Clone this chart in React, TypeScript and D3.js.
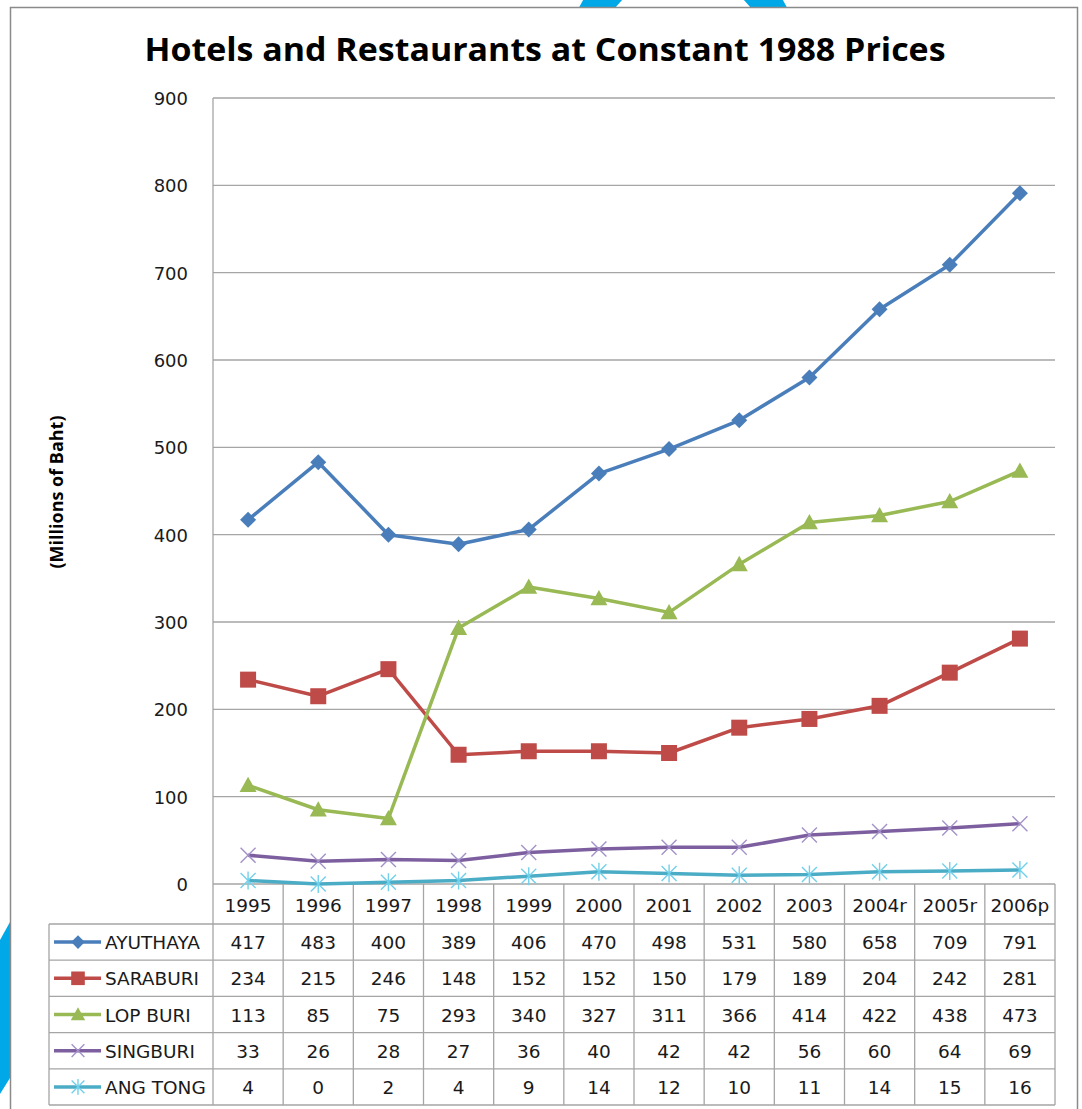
import React from "react";
import { scaleBand, scaleLinear, line, range } from "d3";

const years = ["1995", "1996", "1997", "1998", "1999", "2000", "2001", "2002", "2003", "2004r", "2005r", "2006p"];
const seriesNames = ["AYUTHAYA", "SARABURI", "LOP BURI", "SINGBURI", "ANG TONG"];
const ayuthaya = [417, 483, 400, 389, 406, 470, 498, 531, 580, 658, 709, 791];
const saraburi = [234, 215, 246, 148, 152, 152, 150, 179, 189, 204, 242, 281];
const lopBuri = [113, 85, 75, 293, 340, 327, 311, 366, 414, 422, 438, 473];
const singburi = [33, 26, 28, 27, 36, 40, 42, 42, 56, 60, 64, 69];
const angTong = [4, 0, 2, 4, 9, 14, 12, 10, 11, 14, 15, 16];
const yTicks = [0, 100, 200, 300, 400, 500, 600, 700, 800, 900];

const seriesValues = [ayuthaya, saraburi, lopBuri, singburi, angTong];
const lineColors = ["#4a7ebb", "#be4b48", "#98b954", "#7d5fa0", "#4bacc6"];
const markerTypes = ["diamond", "square", "triangle", "x", "star"];

const W = 1082;
const H = 1109;
const plotLeft = 213;
const plotRight = 1055;
const plotTop = 98;
const plotBottom = 884;
const tableLeft = 49;
const headerBottom = 924;
const tableBottom = 1105;
const rowH = (tableBottom - headerBottom) / seriesNames.length;

const x = scaleBand<string>().domain(years).range([plotLeft, plotRight]);
const y = scaleLinear().domain([0, 900]).range([plotBottom, plotTop]);

const grid = "#a5a5a5";
const font = "'DejaVu Sans', sans-serif";

function Marker({ type, cx, cy, color, s = 1 }: { type: string; cx: number; cy: number; color: string; s?: number }) {
  if (type === "diamond") {
    const r = 8 * s;
    return <path d={`M${cx},${cy - r}L${cx + r},${cy}L${cx},${cy + r}L${cx - r},${cy}Z`} fill={color} />;
  }
  if (type === "square") {
    const r = 8 * s;
    return <rect x={cx - r} y={cy - r} width={2 * r} height={2 * r} fill={color} />;
  }
  if (type === "triangle") {
    const r = 8.5 * s;
    return <path d={`M${cx},${cy - r}L${cx + r},${cy + r * 0.8}L${cx - r},${cy + r * 0.8}Z`} fill={color} />;
  }
  if (type === "x") {
    const r = 7.5 * s;
    return (
      <path
        d={`M${cx - r},${cy - r}L${cx + r},${cy + r}M${cx - r},${cy + r}L${cx + r},${cy - r}`}
        stroke="#a392c8"
        strokeWidth={1.4}
        fill="none"
      />
    );
  }
  const r = 7.5 * s;
  return (
    <path
      d={`M${cx - r},${cy - r}L${cx + r},${cy + r}M${cx - r},${cy + r}L${cx + r},${cy - r}M${cx},${cy - r - 1.5}L${cx},${cy + r + 1.5}`}
      stroke="#72d0ea"
      strokeWidth={1.4}
      fill="none"
    />
  );
}

export default function App() {
  const cx = (i: number) => (x(years[i]) as number) + x.bandwidth() / 2;
  const path = line<number>()
    .x((_, i) => cx(i))
    .y((d) => y(d));

  return (
    <svg width={W} height={H} style={{ position: "absolute", left: 0, top: 0, background: "#fff" }}>
      {/* decorative swooshes behind the chart frame */}
      <circle cx={683} cy={60} r={101} fill="none" stroke="#00a8e8" strokeWidth={31} />
      <path d="M0,940L10,922L10,1078L0,1094Z" fill="#00a8e8" />
      <rect x={10.5} y={7.5} width={1067} height={1120} fill="#fff" stroke="#8a8a8a" strokeWidth={1.5} />

      <text
        x={545}
        y={61}
        textAnchor="middle"
        fontFamily="'Open Sans', sans-serif"
        fontWeight="bold"
        fontSize={33}
        textLength={801}
        lengthAdjust="spacingAndGlyphs"
        fill="#000"
      >
        Hotels and Restaurants at Constant 1988 Prices
      </text>

      <text
        transform="translate(63,492) rotate(-90)"
        textAnchor="middle"
        fontFamily="'Open Sans', sans-serif"
        fontWeight="bold"
        fontSize={17}
        textLength={153}
        lengthAdjust="spacingAndGlyphs"
        fill="#000"
      >
        (Millions of Baht)
      </text>

      {/* gridlines + y labels */}
      {yTicks.map((t) => (
        <g key={t}>
          {t > 0 && <line x1={plotLeft} x2={plotRight} y1={y(t)} y2={y(t)} stroke={grid} strokeWidth={1.3} />}
          <text x={188} y={y(t) + 7} textAnchor="end" fontFamily={font} fontSize={18} fill="#1a1a1a">
            {t}
          </text>
        </g>
      ))}
      <line x1={plotLeft} x2={plotLeft} y1={plotTop} y2={tableBottom} stroke={grid} strokeWidth={1.3} />

      {/* data table */}
      <g stroke={grid} strokeWidth={1.3}>
        <line x1={plotLeft} x2={plotRight} y1={plotBottom} y2={plotBottom} />
        {range(seriesNames.length + 1).map((r) => (
          <line key={r} x1={tableLeft} x2={plotRight} y1={headerBottom + r * rowH} y2={headerBottom + r * rowH} />
        ))}
        <line x1={tableLeft} x2={tableLeft} y1={headerBottom} y2={tableBottom} />
        {years.map((yr) => (
          <line key={yr} x1={(x(yr) as number) + x.bandwidth()} x2={(x(yr) as number) + x.bandwidth()} y1={plotBottom} y2={tableBottom} />
        ))}
      </g>
      {years.map((yr, i) => (
        <text key={yr} x={cx(i)} y={912} textAnchor="middle" fontFamily={font} fontSize={18.5} fill="#1a1a1a">
          {yr}
        </text>
      ))}
      {seriesNames.map((name, si) => {
        const ry = headerBottom + si * rowH + rowH / 2;
        return (
          <g key={name}>
            <line x1={54} x2={101} y1={ry} y2={ry} stroke={lineColors[si]} strokeWidth={3.5} />
            <Marker type={markerTypes[si]} cx={78} cy={ry} color={lineColors[si]} s={0.85} />
            <text x={105} y={ry + 7} fontFamily={font} fontSize={18.5} fill="#1a1a1a">
              {name}
            </text>
            {seriesValues[si].map((v, i) => (
              <text key={i} x={cx(i)} y={ry + 7} textAnchor="middle" fontFamily={font} fontSize={18.5} fill="#1a1a1a">
                {v}
              </text>
            ))}
          </g>
        );
      })}

      {/* series lines and markers */}
      {seriesValues.map((vals, si) => (
        <g key={si}>
          <path d={path(vals) || ""} fill="none" stroke={lineColors[si]} strokeWidth={3.5} strokeLinejoin="round" />
          {vals.map((v, i) => (
            <Marker key={i} type={markerTypes[si]} cx={cx(i)} cy={y(v)} color={lineColors[si]} />
          ))}
        </g>
      ))}
    </svg>
  );
}
